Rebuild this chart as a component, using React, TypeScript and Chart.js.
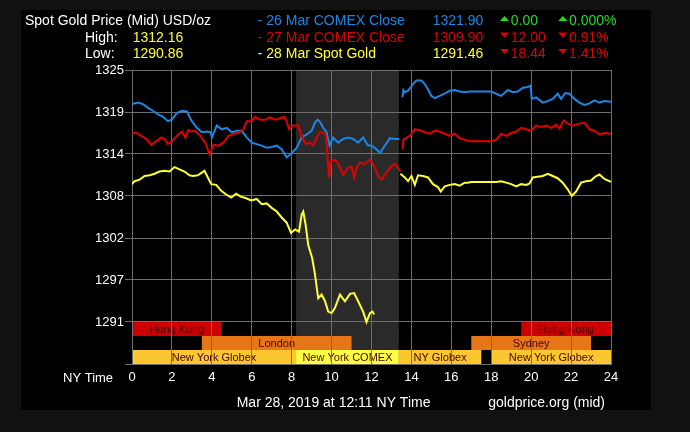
import { useEffect, useRef } from 'react';
import { Chart, registerables } from 'chart.js';

Chart.register(...registerables);

// ---------- data ----------
const comex26Hours = [0, 0.3, 0.55, 0.8, 1.05, 1.3, 1.55, 1.8, 2.0, 2.25, 2.5, 2.75, 3.0, 3.25, 3.5, 3.75, 3.95, 4.0, 4.25, 4.5, 4.75, 5.0, 5.25, 5.5, 5.75, 6.0, 6.25, 6.5, 6.75, 7.0, 7.25, 7.5, 7.75, 8.0, 8.25, 8.5, 8.75, 9.0, 9.17, 9.3, 9.42, 9.58, 9.75, 9.9, 10.08, 10.33, 10.58, 10.83, 11.08, 11.33, 11.58, 11.83, 12.0, 12.25, 12.42, 12.67, 12.92, 13.17, 13.4, 13.47, 13.55, 13.6, 13.67, 13.83, 14.08, 14.25, 14.5, 14.67, 14.83, 15.0, 15.17, 15.42, 15.67, 15.92, 16.17, 16.42, 16.67, 16.92, 18.0, 18.25, 18.5, 18.83, 19.08, 19.33, 19.58, 19.83, 19.97, 20.03, 20.25, 20.58, 20.83, 21.08, 21.33, 21.5, 21.7, 21.92, 22.17, 22.42, 22.67, 22.92, 23.17, 23.42, 23.67, 24.0];
const comex26Prices = [1320.4, 1320.6, 1320.4, 1319.9, 1319.5, 1319.0, 1318.7, 1318.1, 1318.3, 1319.2, 1319.5, 1319.4, 1318.1, 1317.2, 1316.6, 1316.7, 1316.6, 1315.9, 1317.5, 1317.0, 1317.2, 1316.6, 1316.8, 1316.8, 1315.9, 1315.2, 1315.0, 1314.8, 1314.5, 1314.6, 1314.8, 1314.3, 1313.2, 1313.8, 1314.5, 1315.9, 1316.3, 1316.8, 1317.9, 1318.3, 1318.0, 1317.2, 1316.6, 1314.8, 1315.9, 1315.2, 1315.7, 1315.9, 1315.7, 1315.2, 1315.9, 1314.8, 1314.8, 1314.3, 1313.8, 1314.8, 1315.8, 1315.7, 1315.7, null, 1321.3, 1322.3, 1322.0, 1322.2, 1323.1, 1323.6, 1323.6, 1323.1, 1322.4, 1321.5, 1321.2, 1321.5, 1321.8, 1322.2, 1322.3, 1322.1, 1322.0, 1322.1, 1322.1, 1321.8, 1321.5, 1322.3, 1322.0, 1322.1, 1322.6, 1322.7, 1322.9, 1321.1, 1321.3, 1320.6, 1320.8, 1321.1, 1321.8, 1321.1, 1321.9, 1321.8, 1321.1, 1320.6, 1320.3, 1320.5, 1320.9, 1320.6, 1320.8, 1320.7];

const comex27Hours = [0, 0.2, 0.47, 0.72, 0.97, 1.22, 1.47, 1.63, 1.8, 2.0, 2.25, 2.5, 2.67, 2.83, 3.0, 3.17, 3.42, 3.67, 3.9, 4.08, 4.33, 4.58, 4.83, 5.08, 5.33, 5.58, 5.75, 6.0, 6.17, 6.42, 6.67, 6.92, 7.17, 7.42, 7.63, 7.75, 7.87, 8.08, 8.33, 8.5, 8.7, 8.92, 9.08, 9.25, 9.42, 9.58, 9.72, 9.8, 9.87, 9.97, 10.17, 10.33, 10.58, 10.83, 11.0, 11.13, 11.25, 11.42, 11.67, 11.92, 12.0, 12.17, 12.33, 12.5, 12.75, 12.97, 13.17, 13.33, 13.45, 13.5, 13.55, 13.6, 13.92, 14.17, 14.42, 14.67, 14.92, 15.17, 15.42, 15.67, 15.92, 16.17, 16.42, 16.67, 16.92, 18.0, 18.25, 18.5, 18.75, 19.0, 19.25, 19.5, 19.75, 20.0, 20.25, 20.5, 20.75, 21.0, 21.25, 21.42, 21.63, 21.83, 22.08, 22.33, 22.67, 22.92, 23.17, 23.42, 23.67, 24.0];
const comex27Prices = [1316.4, 1316.6, 1316.1, 1315.7, 1314.9, 1315.4, 1315.9, 1315.7, 1315.0, 1315.4, 1316.1, 1316.7, 1315.9, 1316.9, 1316.7, 1316.8, 1316.1, 1315.2, 1313.6, 1314.9, 1314.8, 1315.2, 1316.1, 1316.4, 1316.5, 1317.0, 1318.1, 1318.1, 1318.7, 1318.3, 1318.3, 1318.6, 1318.3, 1318.5, 1318.7, 1318.1, 1317.0, 1317.5, 1317.5, 1316.1, 1315.0, 1315.2, 1314.8, 1315.9, 1316.6, 1316.6, 1316.1, 1313.2, 1310.5, 1312.7, 1312.9, 1312.3, 1310.9, 1311.8, 1312.0, 1310.5, 1311.8, 1312.5, 1312.3, 1312.9, 1312.7, 1311.8, 1310.7, 1310.2, 1311.1, 1312.0, 1312.3, 1311.8, 1311.3, null, 1314.3, 1315.6, 1316.1, 1317.0, 1316.9, 1316.6, 1316.4, 1316.8, 1316.7, 1316.4, 1316.1, 1316.4, 1315.8, 1315.6, 1315.4, 1315.4, 1315.6, 1316.4, 1316.1, 1316.5, 1316.7, 1317.2, 1317.0, 1316.8, 1317.5, 1317.3, 1317.5, 1317.2, 1317.6, 1317.1, 1318.2, 1317.8, 1317.5, 1317.7, 1317.9, 1317.0, 1316.8, 1316.3, 1316.5, 1316.4];

const spot28Hours = [0, 0.13, 0.38, 0.63, 0.88, 1.13, 1.38, 1.63, 1.88, 2.13, 2.38, 2.63, 2.88, 3.05, 3.3, 3.63, 3.8, 3.97, 4.22, 4.47, 4.72, 4.97, 5.22, 5.47, 5.72, 5.97, 6.25, 6.5, 6.75, 7.0, 7.25, 7.5, 7.75, 7.97, 8.17, 8.37, 8.5, 8.58, 8.7, 8.83, 9.03, 9.17, 9.33, 9.5, 9.67, 9.83, 10.0, 10.17, 10.42, 10.67, 10.92, 11.13, 11.33, 11.58, 11.75, 11.92, 12.05, 12.13, 12.8, 13.45, 13.67, 13.83, 14.0, 14.17, 14.33, 14.58, 14.83, 15.08, 15.33, 15.47, 15.67, 15.92, 16.17, 16.42, 16.67, 16.83, 17.0, 18.0, 18.25, 18.5, 18.75, 19.0, 19.25, 19.5, 19.75, 19.92, 20.08, 20.33, 20.58, 20.83, 21.08, 21.33, 21.58, 21.83, 22.03, 22.25, 22.5, 22.75, 23.0, 23.2, 23.42, 23.67, 24.0];
const spot28Prices = [1309.6, 1310.0, 1310.2, 1310.7, 1310.8, 1311.0, 1311.3, 1311.4, 1311.3, 1311.9, 1311.6, 1311.3, 1310.8, 1310.7, 1310.8, 1311.4, 1310.5, 1309.6, 1309.5, 1308.7, 1308.2, 1307.8, 1308.3, 1307.9, 1307.7, 1307.4, 1307.6, 1306.9, 1307.0, 1306.4, 1305.9, 1305.1, 1304.4, 1303.0, 1303.5, 1303.2, 1305.5, 1305.9, 1304.1, 1301.4, 1299.6, 1297.4, 1294.2, 1294.7, 1293.8, 1292.4, 1292.2, 1292.9, 1294.7, 1293.8, 1294.8, 1294.9, 1293.8, 1292.4, 1291.0, 1292.2, 1292.4, 1292.0, null, 1311.0, 1310.5, 1310.0, 1310.7, 1309.5, 1310.8, 1310.7, 1310.5, 1309.6, 1309.2, 1308.6, 1309.3, 1309.5, 1309.6, 1309.4, 1309.8, 1309.8, 1309.9, 1309.9, 1309.9, 1310.0, 1309.8, 1309.6, 1309.3, 1309.6, 1309.5, 1309.7, 1310.5, 1310.6, 1310.7, 1311.0, 1310.7, 1310.4, 1309.8, 1308.9, 1308.0, 1308.6, 1309.8, 1310.0, 1310.1, 1310.6, 1310.9, 1310.3, 1309.9];

const yMin = 1285.3333;
const yMax = 1325;
const yTickValues = [1285.3333, 1291, 1296.6667, 1302.3333, 1308, 1313.6667, 1319.3333, 1325];
const yTickLabels = ['', '1291', '1297', '1302', '1308', '1314', '1319', '1325'];
const xTickStep = 2;

const sessionNames = ['Hong Kong', 'Hong Kong', 'London', 'Sydney', 'New York Globex', 'New York COMEX', 'NY Globex', 'New York Globex'];
const sessionStarts = [0, 19.5, 3.5, 17, 0, 8.22, 13.37, 18];
const sessionEnds = [4.5, 24, 11, 23, 8.22, 13.37, 17.5, 24];
const sessionRows = [0, 0, 1, 1, 2, 2, 2, 2];
const comexOpen = 8.22;
const comexClose = 13.37;

const titleText = 'Spot Gold Price (Mid) USD/oz';
const highLabel = 'High:';
const lowLabel = 'Low:';
const highValue = '1312.16';
const lowValue = '1290.86';
const seriesNames = ['- 26 Mar COMEX Close', '- 27 Mar COMEX Close', '- 28 Mar Spot Gold'];
const seriesCloses = ['1321.90', '1309.90', '1291.46'];
const seriesChanges = ['0.00', '12.00', '18.44'];
const seriesChangePcts = ['0.000%', '0.91%', '1.41%'];
const seriesUp = [true, false, false];
const xAxisTitle = 'NY Time';
const footerLeft = 'Mar 28, 2019 at 12:11 NY Time';
const footerRight = 'goldprice.org (mid)';

// ---------- styles ----------
const FONT = '"Liberation Sans", Arial, sans-serif';
const BLUE = '#1a87e4';
const RED = '#e00000';
const YELLOW = '#ffff33';
const GREEN = '#22dd22';
const WHITE = '#ffffff';
const GRID = '#6e6e6e';
const SHADE = '#2a2a2a';
const sessionColors = ['#cc0000', '#cc0000', '#e67618', '#e67618', '#fcc630', '#ffff44', '#fcc630', '#fcc630'];
const sessionTextColor = '#4a0000';
const seriesColors = [BLUE, RED, YELLOW];

const backgroundPlugin = {
  id: 'sessionsBackground',
  beforeDraw(chart: any) {
    const { ctx, chartArea } = chart;
    const x = chart.scales.x;
    const y = chart.scales.y;
    ctx.save();
    // COMEX shading
    const sx0 = x.getPixelForValue(comexOpen);
    const sx1 = x.getPixelForValue(comexClose);
    ctx.fillStyle = SHADE;
    ctx.fillRect(sx0, chartArea.top, sx1 - sx0, chartArea.bottom - chartArea.top);
    // session rows
    const bandTop = 1291;
    const rowH = (bandTop - yMin) / 3;
    ctx.font = `11px ${FONT}`;
    ctx.textAlign = 'center';
    ctx.textBaseline = 'middle';
    for (let i = 0; i < sessionNames.length; i++) {
      const r = sessionRows[i];
      const top = y.getPixelForValue(bandTop - r * rowH);
      const bot = y.getPixelForValue(bandTop - (r + 1) * rowH);
      const l = x.getPixelForValue(sessionStarts[i]);
      const rr = x.getPixelForValue(sessionEnds[i]);
      ctx.fillStyle = sessionColors[i];
      ctx.fillRect(l, top, rr - l, bot - top);
      ctx.fillStyle = sessionTextColor;
      ctx.fillText(sessionNames[i], (l + rr) / 2, (top + bot) / 2 + 1);
    }
    ctx.restore();
  },
};

function tri(ctx: CanvasRenderingContext2D, x: number, baseline: number, up: boolean, color: string) {
  ctx.fillStyle = color;
  ctx.beginPath();
  if (up) {
    ctx.moveTo(x, baseline - 4);
    ctx.lineTo(x + 9, baseline - 4);
    ctx.lineTo(x + 4.5, baseline - 9);
  } else {
    ctx.moveTo(x, baseline - 9);
    ctx.lineTo(x + 9, baseline - 9);
    ctx.lineTo(x + 4.5, baseline - 4);
  }
  ctx.closePath();
  ctx.fill();
}

const textPlugin = {
  id: 'headerText',
  afterDraw(chart: any) {
    const ctx: CanvasRenderingContext2D = chart.ctx;
    ctx.save();
    ctx.textBaseline = 'alphabetic';
    ctx.font = `14px ${FONT}`;
    const baselines = [15, 31.5, 48];
    ctx.textAlign = 'left';
    ctx.fillStyle = WHITE;
    ctx.fillText(titleText, 4, baselines[0]);
    ctx.fillText(highLabel, 64, baselines[1]);
    ctx.fillText(lowLabel, 64, baselines[2]);
    ctx.fillStyle = YELLOW;
    ctx.fillText(highValue, 111.7, baselines[1]);
    ctx.fillText(lowValue, 111.7, baselines[2]);
    for (let i = 0; i < 3; i++) {
      const b = baselines[i];
      ctx.textAlign = 'left';
      ctx.fillStyle = seriesColors[i];
      ctx.fillText(seriesNames[i], 236.7, b);
      ctx.textAlign = 'right';
      ctx.fillText(seriesCloses[i], 462.3, b);
      const cc = seriesUp[i] ? GREEN : RED;
      tri(ctx, 479, b, seriesUp[i], cc);
      tri(ctx, 537.3, b, seriesUp[i], cc);
      ctx.textAlign = 'left';
      ctx.fillStyle = cc;
      ctx.fillText(seriesChanges[i], 489.7, b);
      ctx.fillText(seriesChangePcts[i], 548, b);
    }
    // x axis title & footer
    ctx.fillStyle = WHITE;
    ctx.font = `13px ${FONT}`;
    ctx.textAlign = 'left';
    ctx.fillText(xAxisTitle, 42, 372);
    ctx.font = `14px ${FONT}`;
    ctx.fillText(footerLeft, 215.7, 397);
    ctx.fillText(footerRight, 467.3, 397);
    ctx.restore();
  },
};

export default function App() {
  const ref = useRef<HTMLCanvasElement>(null);
  useEffect(() => {
    const canvas = ref.current;
    if (!canvas) return;
    const pts = (h: number[], p: (number | null)[]) => h.map((x, i) => ({ x, y: p[i] }));
    const line = (label: string, data: any, color: string) => ({
      label,
      data,
      borderColor: color,
      backgroundColor: color,
      borderWidth: 2,
      pointRadius: 0,
      tension: 0,
      spanGaps: false,
      fill: false,
    });
    const chart = new Chart(canvas, {
      type: 'line',
      data: {
        datasets: [
          line('28 Mar Spot Gold', pts(spot28Hours, spot28Prices), YELLOW),
          line('27 Mar COMEX Close', pts(comex27Hours, comex27Prices), RED),
          line('26 Mar COMEX Close', pts(comex26Hours, comex26Prices), BLUE),
        ],
      },
      options: {
        animation: false,
        responsive: false,
        events: [],
        layout: { padding: { top: 60, right: 40, bottom: 0, left: 0 } },
        plugins: { legend: { display: false }, tooltip: { enabled: false } },
        scales: {
          x: {
            type: 'linear',
            min: 0,
            max: 24,
            afterFit: (s: any) => { s.height = 46; },
            ticks: { stepSize: xTickStep, color: WHITE, font: { family: FONT, size: 13 }, padding: 6, maxRotation: 0, autoSkip: false },
            grid: { color: GRID, drawTicks: false },
            border: { color: GRID },
          },
          y: {
            type: 'linear',
            min: yMin,
            max: yMax,
            afterFit: (s: any) => { s.width = 111; },
            afterBuildTicks: (s: any) => { s.ticks = yTickValues.map((value) => ({ value })); },
            ticks: {
              color: WHITE,
              font: { family: FONT, size: 13 },
              padding: 1,
              autoSkip: false,
              callback: (_v: any, i: number) => yTickLabels[i],
            },
            grid: { color: GRID, tickLength: 7, tickColor: GRID },
            border: { color: GRID },
          },
        },
      } as any,
      plugins: [backgroundPlugin, textPlugin],
    });
    return () => chart.destroy();
  }, []);

  return (
    <div style={{ position: 'fixed', left: 0, top: 0, width: 690, height: 432, background: '#111111' }}>
      <canvas
        ref={ref}
        width={630}
        height={400}
        style={{ position: 'absolute', left: 21, top: 10, width: 630, height: 400, background: '#000000' }}
      />
    </div>
  );
}
